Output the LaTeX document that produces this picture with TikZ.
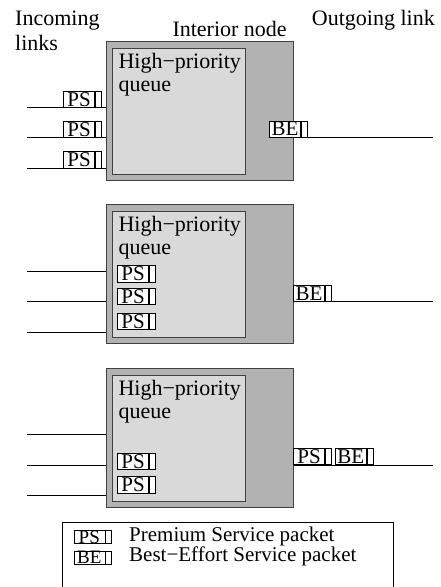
\documentclass[tikz,border=0pt]{standalone}
\usepackage{fontspec}
\setmainfont{Liberation Serif}
\usetikzlibrary{positioning}

\tikzset{
  router/.style={draw=black!75, fill=gray!60, line width=0.8pt, inner sep=0pt,
    minimum width=187pt, minimum height=138.5pt, anchor=north west},
  hpq/.style={draw=black!75, fill=gray!30, line width=0.8pt, inner sep=0pt,
    minimum width=133.3pt, minimum height=126.3pt, anchor=north west},
  pkt/.style={draw, fill=white, line width=0.6pt, inner sep=0pt,
    minimum width=31pt, minimum height=16.5pt, anchor=south west,
    font=\fontsize{21}{21}\selectfont},
  tail/.style={draw, fill=white, line width=0.6pt, inner sep=0pt,
    minimum width=6pt, minimum height=16.5pt},
  txt/.style={inner sep=0pt, anchor=base west, font=\fontsize{22}{23.3}\selectfont},
  link/.style={line width=0.8pt},
}

\begin{document}
\begin{tikzpicture}[x=1pt, y=-1pt]
\useasboundingbox (0,0) rectangle (441,587);

% headings
\node[txt, align=left] (inlbl) at (15,25) {Incoming};
\node[txt] (inlbl2) at (15,50) {links};
\node[txt] (nodelbl) at (172.3,36) {Interior node};
\node[txt] (outlbl) at (311.7,25) {Outgoing link};

% panel 1
\node[router] (node1) at (106,41.3) {};
\node[hpq] (hpq1) at (111.7,47.5) {};
\node[txt] (hp1) at (118.3,68.5) {High−priority};
\node[txt] (q1) at (118.3,91.8) {queue};
\foreach \i/\y in {a/107.7, b/137.7, c/168.3} {
  \coordinate (in1\i) at (27,\y);
  \draw[link] (in1\i) -- (in1\i -| node1.west);
  \node[pkt] (ps1\i) at (63.3,\y) {PS};
  \node[tail, right=0pt of ps1\i] (ps1\i t) {};
}
\coordinate (out1) at (433,137.7);
\draw[link] (out1 -| node1.east) -- (out1);
\node[pkt] (be1) at (269.3,137.7) {BE};
\node[tail, right=0pt of be1] (be1t) {};

% panel 2
\node[router] (node2) at (106,204.3) {};
\node[hpq] (hpq2) at (111.7,210.5) {};
\node[txt] (hp2) at (118.3,231.5) {High−priority};
\node[txt] (q2) at (118.3,254.8) {queue};
\foreach \i/\y in {a/271, b/301.7, c/332.3} {
  \coordinate (in2\i) at (27,\y);
  \draw[link] (in2\i) -- (in2\i -| node2.west);
}
\foreach \i/\y in {a/282.3, b/305, c/330} {
  \node[pkt] (ps2\i) at (117.3,\y) {PS};
  \node[tail, right=0pt of ps2\i] (ps2\i t) {};
}
\coordinate (out2) at (433,301.7);
\draw[link] (out2 -| node2.east) -- (out2);
\node[pkt] (be2) at (293.3,301.7) {BE};
\node[tail, right=0pt of be2] (be2t) {};

% panel 3
\node[router] (node3) at (106,368.3) {};
\node[hpq] (hpq3) at (111.7,374.5) {};
\node[txt] (hp3) at (118.3,395.5) {High−priority};
\node[txt] (q3) at (118.3,418.8) {queue};
\foreach \i/\y in {a/434.3, b/465, c/495} {
  \coordinate (in3\i) at (27,\y);
  \draw[link] (in3\i) -- (in3\i -| node3.west);
}
\foreach \i/\y in {a/470, b/493.3} {
  \node[pkt] (ps3\i) at (117.3,\y) {PS};
  \node[tail, right=0pt of ps3\i] (ps3\i t) {};
}
\coordinate (out3) at (433,465);
\draw[link] (out3 -| node3.east) -- (out3);
\node[pkt] (ps3o) at (293.3,465) {PS};
\node[tail, right=0pt of ps3o] (ps3ot) {};
\node[pkt] (be3) at (335,465) {BE};
\node[tail, right=0pt of be3] (be3t) {};

% legend
\draw[line width=0.6pt] (62,590) -- (62,522) -- (393,522) -- (393,590);
\node[pkt, minimum height=13pt, font=\fontsize{19}{19}\selectfont] (lgps) at (73.5,544) {PS};
\node[tail, minimum height=13pt, right=0pt of lgps] (lgpst) {};
\node[pkt, minimum height=13pt, font=\fontsize{19}{19}\selectfont] (lgbe) at (73.5,564.5) {BE};
\node[tail, minimum height=13pt, right=0pt of lgbe] (lgbet) {};
\node[txt, font=\fontsize{21}{21}\selectfont] (lgpstxt) at (129,541) {Premium Service packet};
\node[txt, font=\fontsize{21}{21}\selectfont] (lgbetxt) at (129,561) {Best−Effort Service packet};
\end{tikzpicture}
\end{document}
